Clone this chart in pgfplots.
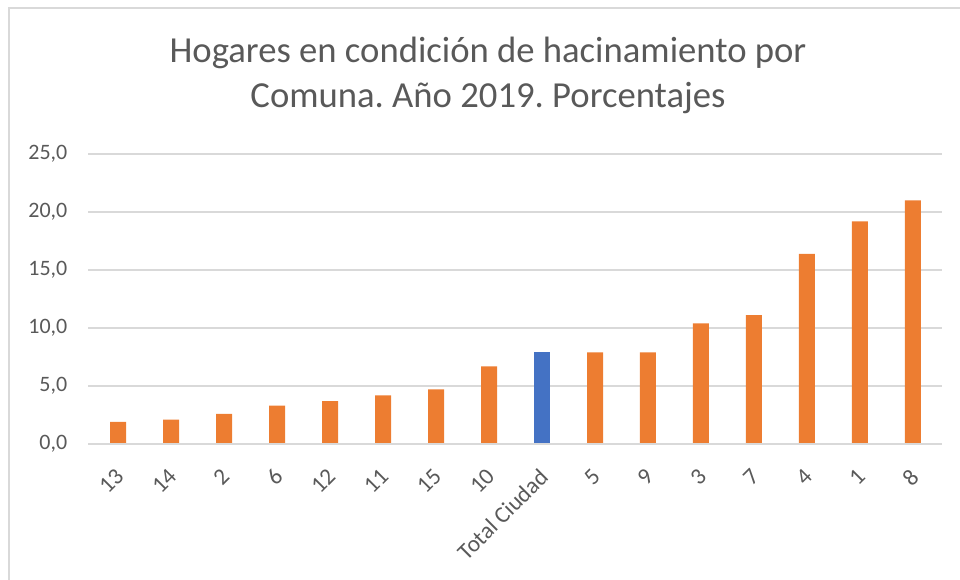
\documentclass[border=0pt]{standalone}
\usepackage{pgfplots}
\pgfplotsset{compat=1.18}
\usepackage{fontspec}
\setmainfont{Carlito}
\frenchspacing
\definecolor{barorange}{HTML}{ED7D31}
\definecolor{barblue}{HTML}{4472C4}
\definecolor{gridgray}{HTML}{D9D9D9}
\definecolor{txtgray}{HTML}{595959}
\begin{document}
\begin{tikzpicture}
\path[use as bounding box] (0pt,0pt) rectangle (720pt,435pt);
% chart frame (left and top edges visible)
\draw[gridgray,line width=1.5pt] (7pt,-2pt) -- (7pt,429pt) -- (722pt,429pt);
% title
\node[anchor=base,text=txtgray,font=\fontsize{27.5}{33}\selectfont] at (366pt,387.75pt)
  {Hogares en condición de hacinamiento por};
\node[anchor=base,text=txtgray,font=\fontsize{27.5}{33}\selectfont] at (366pt,354pt)
  {Comuna. Año 2019. Porcentajes};
\begin{axis}[
  at={(66pt,102pt)},anchor=south west,
  scale only axis,width=640.5pt,height=217.5pt,
  xmin=-0.57,xmax=15.55,ymin=0,ymax=25,
  ytick={0,5,...,25},
  xtick={0,...,15},
  xticklabels={13,14,2,6,12,11,15,10,Total Ciudad,5,9,3,7,4,1,8},
  ymajorgrids,
  major grid style={gridgray,line width=1.1pt},
  axis line style={draw=none},
  tick style={draw=none},
  /pgf/number format/.cd,use comma,fixed,fixed zerofill,precision=1,assume math mode=true,
  /pgfplots/.cd,
  yticklabel style={text=txtgray,font=\fontsize{16.5}{20}\selectfont,xshift=-12pt},
  xticklabel style={text=txtgray,font=\fontsize{17.5}{21}\selectfont,
    xshift=-3pt,yshift=-13pt,rotate=45,anchor=north east,inner sep=0pt},
  ybar,bar width=12pt,
]
\addplot[fill=barorange,draw=none,bar shift=0pt] coordinates {
  (0,1.9) (1,2.1) (2,2.6) (3,3.3) (4,3.7) (5,4.2) (6,4.7) (7,6.7)
  (9,7.9) (10,7.9) (11,10.4) (12,11.1) (13,16.4) (14,19.2) (15,21.0)};
\addplot[fill=barblue,draw=none,bar shift=0pt] coordinates {(8,7.9)};
\draw[gridgray,line width=1.1pt] (axis cs:-0.57,0) -- (axis cs:15.55,0);
\end{axis}
\end{tikzpicture}
\end{document}
